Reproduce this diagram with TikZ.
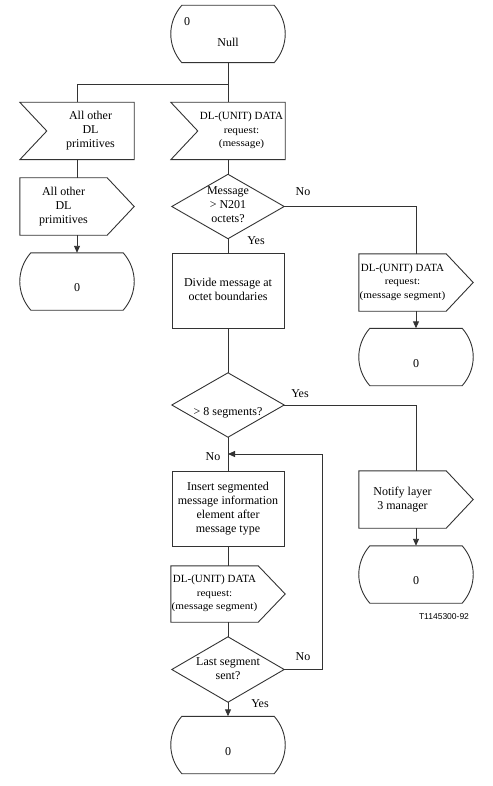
\documentclass[tikz,border=0pt]{standalone}
\usepackage{fontspec}
\setmainfont{Liberation Serif}
\newfontfamily\figsans{Liberation Sans}
\newfontfamily\widefont[FakeStretch=1.12]{Liberation Serif}
\usetikzlibrary{arrows.meta,calc}
\newcommand\smallsig{\widefont\fontsize{10}{13.5}\selectfont}
\tikzset{
  ln/.style={line width=0.9pt, draw=black!80},
  arr/.style={ln, -{Triangle[length=7pt,width=6pt]}},
  txt/.style={inner sep=0pt, font=\fontsize{12}{14}\selectfont, align=center},
  lowered/.style={execute at begin node={\rule{0pt}{23pt}}, execute at end node={\rule[-3pt]{0pt}{3pt}}},
  statebox/.style={txt, lowered, minimum width=114pt, minimum height=57pt},
  sigbox/.style={txt, lowered, minimum width=87pt, minimum height=57pt},
  procbox/.style={txt, lowered, ln, draw, minimum width=112pt, minimum height=75pt},
  decbox/.style={txt, lowered, minimum width=112pt, minimum height=64pt},
  sig/.style={font=\fontsize{11}{13.5}\selectfont},
}
\newcommand\stateoutline[1]{\draw[ln] ([xshift=11pt]#1.north west) -- ([xshift=-11pt]#1.north east)
  .. controls ([xshift=3.7pt,yshift=-16.9pt]#1.north east) and ([xshift=3.7pt,yshift=16.9pt]#1.south east) .. ([xshift=-11pt]#1.south east)
  -- ([xshift=11pt]#1.south west)
  .. controls ([xshift=-3.7pt,yshift=16.9pt]#1.south west) and ([xshift=-3.7pt,yshift=-16.9pt]#1.north west) .. ([xshift=11pt]#1.north west) -- cycle;}
\newcommand\inoutline[1]{\draw[ln] ([xshift=-27pt]#1.north west) -- (#1.north east) -- (#1.south east) -- ([xshift=-27pt]#1.south west) -- (#1.west) -- cycle;}
\newcommand\outoutline[1]{\draw[ln] (#1.north west) -- (#1.north east) -- ([xshift=27pt]#1.east) -- (#1.south east) -- (#1.south west) -- cycle;}
\newcommand\decoutline[1]{\draw[ln] (#1.north) -- (#1.east) -- (#1.south) -- (#1.west) -- cycle;}
\begin{document}
\begin{tikzpicture}[x=1pt,y=-1pt]
\useasboundingbox (0,0) rectangle (492,786);
% shapes
\node[statebox] (s0) at (228,34) {};
\node[txt] (s0n) at (187,22) {0};
\node[txt] (s0t) at (228,42) {Null};
\coordinate (j1) at (228,84);
\coordinate (j0) at (77,84);
\node[sigbox] (li) at (90.5,131) {All other\\DL\\primitives};
\node[sigbox, sig] (ri) at (241.5,131) {DL-(UNIT) DATA\\{\smallsig request:}\\{\smallsig (message)}};
\node[sigbox] (lo) at (63.5,206.5) {All other\\DL\\primitives};
\node[statebox] (ls) at (77,281.5) {0};
\node[decbox] (d1) at (228,206.5) {Message\\> N201\\octets?};
\node[procbox] (p1) at (228,290.5) {Divide message at\\octet boundaries};
\node[sigbox, sig] (ro1) at (402.5,282.5) {DL-(UNIT) DATA\\{\smallsig request:}\\{\smallsig (message segment)}};
\node[statebox] (rs1) at (416,357) {0};
\node[decbox] (d2) at (228,405) {> 8 segments?};
\node[sigbox] (ro2) at (402.5,499.5) {Notify layer\\3 manager};
\node[statebox] (rs2) at (416,574.5) {0};
\node[procbox] (p2) at (228,508.5) {Insert segmented\\message information\\element after\\message type};
\node[sigbox, sig, minimum height=56pt] (bo) at (214.5,594) {DL-(UNIT) DATA\\{\smallsig request:}\\{\smallsig (message segment)}};
\node[decbox, minimum height=65pt] (d3) at (228,669.5) {Last segment\\sent?};
\node[statebox] (bs) at (228,745) {0};
\coordinate (j2) at (228,454);
\coordinate (lp) at (322,454);
% labels
\node[txt] (lno1) at (303,192) {No};
\node[txt] (lyes1) at (256,241) {Yes};
\node[txt] (lyes2) at (300,394) {Yes};
\node[txt] (lno2) at (213,457) {No};
\node[txt] (lno3) at (303,657) {No};
\node[txt] (lyes3) at (260,704) {Yes};
\node[font=\figsans\fontsize{8.5}{10}\selectfont, inner sep=0pt] (code) at (444,617) {T1145300-92};
% outlines
\stateoutline{s0}
\stateoutline{ls}
\stateoutline{rs1}
\stateoutline{rs2}
\stateoutline{bs}
\inoutline{li}
\inoutline{ri}
\outoutline{lo}
\outoutline{ro1}
\outoutline{ro2}
\outoutline{bo}
\decoutline{d1}
\decoutline{d2}
\decoutline{d3}
% connectors
\draw[ln] (s0.south) -- (j1) -- (j0) -- (j0 |- li.north);
\draw[ln] (j1) -- (j1 |- ri.north);
\draw[ln] (ls.north |- li.south) -- (ls.north |- lo.north);
\draw[arr] (ls.north |- lo.south) -- (ls.north);
\draw[ln] (d1.north |- ri.south) -- (d1.north);
\draw[ln] (d1.east) -| (rs1.north |- ro1.north);
\draw[arr] (rs1.north |- ro1.south) -- (rs1.north);
\draw[ln] (d1.south) -- (p1.north);
\draw[ln] (p1.south) -- (d2.north);
\draw[ln] (d2.east) -| (rs2.north |- ro2.north);
\draw[arr] (rs2.north |- ro2.south) -- (rs2.north);
\draw[ln] (d2.south) -- (p2.north);
\draw[ln] (p2.south) -- (d3.north |- bo.north);
\draw[ln] (d3.north |- bo.south) -- (d3.north);
\draw[arr] (d3.south) -- (bs.north);
\draw[arr] (d3.east) -| (lp) -- (j2);
\end{tikzpicture}
\end{document}
